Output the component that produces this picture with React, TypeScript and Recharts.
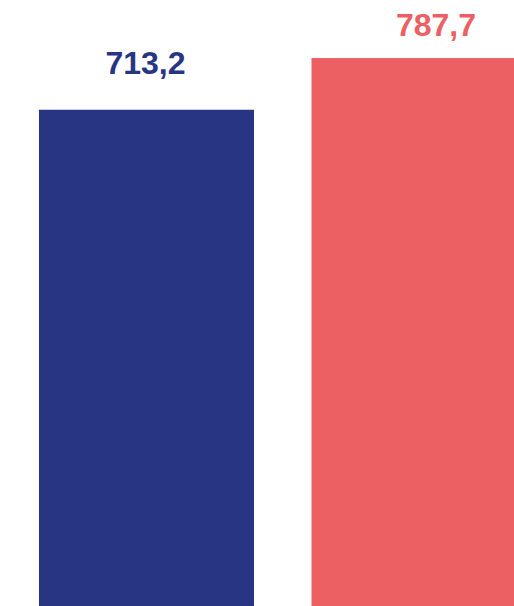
import * as React from 'react';
import { BarChart, Bar, XAxis, YAxis, Cell, LabelList } from 'recharts';

const categories: string[] = ['A', 'B'];
const values: number[] = [713.2, 787.7];
const colors: string[] = ['#283583', '#EC6063'];

// label nudges relative to each bar's top centre (style only)
const labelDx: number[] = [-1, 17];
const labelDy: number[] = [-36, -22];

const data = categories.map((c, i) => ({ name: c, value: values[i] }));

const fmt = (v: number) => v.toFixed(1).replace('.', ',');

const ValueLabel = (props: any) => {
  const { x, y, width, value, index } = props;
  return (
    <text
      x={x + width / 2 + labelDx[index]}
      y={y + labelDy[index]}
      textAnchor="middle"
      fill={colors[index]}
      fontFamily="'Liberation Sans', Arial, sans-serif"
      fontWeight="bold"
      fontSize={32}
    >
      {fmt(value)}
    </text>
  );
};

const App = () => {
  return (
    <div style={{ position: 'absolute', left: 0, top: 0, width: 514, height: 606, overflow: 'hidden', background: '#fff' }}>
      <BarChart
        width={555}
        height={606}
        data={data}
        margin={{ top: 0, right: 0, left: 10, bottom: 0 }}
        barCategoryGap={0}
      >
        <XAxis dataKey="name" hide />
        <YAxis hide domain={[0, 871]} />
        <Bar dataKey="value" barSize={215} isAnimationActive={false}>
          {data.map((d, i) => (
            <Cell key={d.name} fill={colors[i]} />
          ))}
          <LabelList dataKey="value" content={<ValueLabel />} />
        </Bar>
      </BarChart>
    </div>
  );
};

export default App;
